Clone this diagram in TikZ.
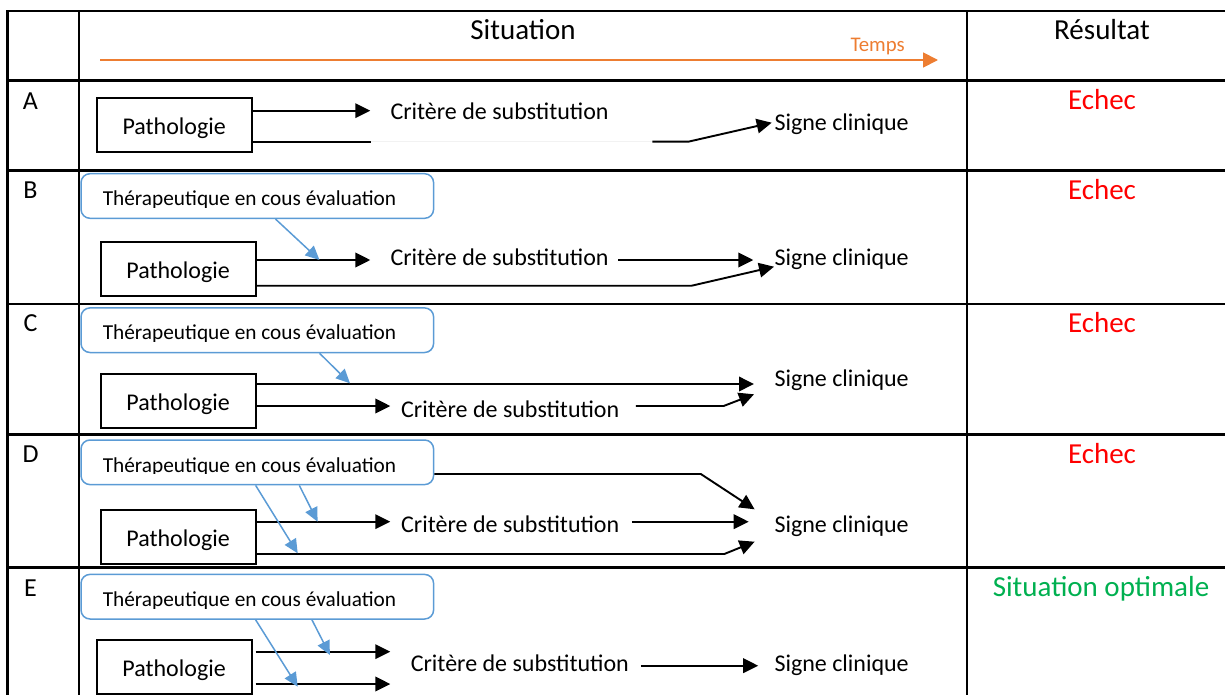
\documentclass[tikz,border=0pt]{standalone}
\usepackage{fontspec}
\setmainfont{Carlito}
\usetikzlibrary{arrows.meta,calc}

\definecolor{blueC}{HTML}{5B9BD5}
\definecolor{orangeC}{HTML}{ED7D31}
\definecolor{greenC}{HTML}{00B050}
\definecolor{redC}{HTML}{FF0000}

\tikzset{
	patho/.style = {draw, line width=2pt, minimum width=155pt, minimum height=54pt, inner sep=0pt, text height=18.6pt, text depth=0pt, font=\fontsize{24}{28}\selectfont},
	thera/.style = {draw=blueC, line width=1.5pt, rounded corners=9pt, minimum width=352.6pt, minimum height=44.6pt},
	theratext/.style = {anchor=base west, inner sep=0pt, font=\fontsize{21.3}{25}\selectfont},
	txt/.style = {anchor=base west, inner sep=0pt, font=\fontsize{24}{28}\selectfont},
	big/.style = {anchor=base, inner sep=0pt, font=\fontsize{29}{34}\selectfont},
	rowlbl/.style = {anchor=base, inner sep=0pt, font=\fontsize{26}{30}\selectfont},
	arr/.style = {line width=1.9pt, -{Triangle[length=15pt,width=14.5pt]}},
	barr/.style = {blueC, line width=1.5pt, -{Triangle[length=14pt,width=13pt]}},
	grid/.style = {line width=2.5pt, line cap=rect}
}

\begin{document}
\begin{tikzpicture}[x=1pt, y=-1pt]
	\useasboundingbox (0,0) rectangle (1225,695);
	\clip (0,0) rectangle (1225,695);

	\foreach \yy in {11, 80.7, 170.7, 304, 434.7, 567.3}
		\draw[grid] (7.5,\yy) -- (1230,\yy);
	\foreach \xx in {7.5, 79, 967}
		\draw[grid] (\xx,11) -- (\xx,700);

	\node[big] (sit) at (523,40) {Situation};
	\node[big] (res) at (1102,40) {Résultat};
	\node[anchor=base, inner sep=0pt, orangeC, font=\fontsize{20.8}{24}\selectfont] (temps) at (877.6,51.7) {Temps};
	\coordinate (t0) at (100,60);
	\coordinate (t1) at (938,60);
	\draw[orangeC, line width=1.8pt, -{Triangle[length=15pt,width=15pt]}] (t0) -- (t1);

	\node[rowlbl] (lA) at (30.5,109.3) {A};
	\node[rowlbl] (lB) at (30.5,198.3) {B};
	\node[rowlbl] (lC) at (30.5,331.7) {C};
	\node[rowlbl] (lD) at (30.5,462.3) {D};
	\node[rowlbl] (lE) at (30.5,596) {E};

	\node[big, redC] (rA) at (1102,109.3) {Echec};
	\node[big, redC] (rB) at (1102,199.3) {Echec};
	\node[big, redC] (rC) at (1102,332.3) {Echec};
	\node[big, redC] (rD) at (1102,463.3) {Echec};
	\node[big, greenC] (rE) at (1101,596) {Situation optimale};

	% A
	\node[patho] (pathA) at (174.2,125) {Pathologie};
	\node[txt] (critA) at (390.3,119.4) {Critère de substitution};
	\node[txt] (signA) at (774.3,130.7) {Signe clinique};
	\draw[arr, shorten >=20pt] (pathA.east |- 0,110.7) -- (critA.west |- 0,110.7);
	\draw[line width=1.9pt] (pathA.east |- 0,141.7) -- (370.7,141.7);
	\draw[line width=1.6pt, black!5] (370.7,141.7) -- (652.3,141.7);
	\draw[arr] (652.3,141.7) -- (688.3,141.7) -- ($(signA.base west)+(-2.6,-8)$);

	% B
	\node[thera] (theraB) at (257.3,196) {};
	\begin{scope}
		\clip (theraB.north west) rectangle ([yshift=11.6pt]theraB.south east);
		\node[theratext] (thB) at (102.6,205.5) {Thérapeutique en cous évaluation};
	\end{scope}
	\node[patho] (pathB) at (178.1,269.2) {Pathologie};
	\node[txt] (critB) at (390.3,265.7) {Critère de substitution};
	\node[txt] (signB) at (774.3,265.7) {Signe clinique};
	\draw[arr, shorten >=20pt] (pathB.east |- 0,260) -- (critB.west |- 0,260);
	\draw[arr, shorten <=9.4pt, shorten >=21pt] (critB.east |- 0,260) -- (signB.west |- 0,260);
	\draw[arr] (pathB.east |- 0,285.7) -- (691.7,285.7) -- ($(signB.base west)+(-0.3,1)$);
	\draw[barr] (theraB.south -| 275.5,0) -- (319.5,260);

	% C
	\node[thera] (theraC) at (257.3,330.2) {};
	\begin{scope}
		\clip (theraC.north west) rectangle ([yshift=11.6pt]theraC.south east);
		\node[theratext] (thC) at (102.6,339.8) {Thérapeutique en cous évaluation};
	\end{scope}
	\node[patho] (pathC) at (178.1,400.9) {Pathologie};
	\node[txt] (signC) at (774.3,386) {Signe clinique};
	\node[txt] (critC) at (401,417.7) {Critère de substitution};
	\draw[arr, shorten >=20.3pt] (pathC.east |- 0,384) -- (signC.west |- 0,384);
	\draw[arr, shorten >=10.7pt] (pathC.east |- 0,406) -- (critC.west |- 0,406);
	\draw[arr, shorten <=16.4pt] (critC.east |- 0,406) -- (723.6,406) -- ($(signC.base west)+(-20.3,8.3)$);
	\draw[barr] (theraC.south -| 319.5,0) -- (350,383.3);

	% D
	\node[thera] (theraD) at (257.3,462.3) {};
	\begin{scope}
		\clip (theraD.north west) rectangle ([yshift=11.6pt]theraD.south east);
		\node[theratext] (thD) at (102.6,472.1) {Thérapeutique en cous évaluation};
	\end{scope}
	\node[patho] (pathD) at (178.1,537) {Pathologie};
	\node[txt] (critD) at (401,532.7) {Critère de substitution};
	\node[txt] (signD) at (774.3,532.7) {Signe clinique};
	\draw[arr] (theraD.east |- 0,474) -- (700.8,474) -- ($(signD.base west)+(-19.7,-23.4)$);
	\draw[arr, shorten >=10.7pt] (pathD.east |- 0,521.7) -- (critD.west |- 0,521.7);
	\draw[arr, shorten <=12.4pt, shorten >=25.6pt] (critD.east |- 0,521.7) -- (signD.west |- 0,521.7);
	\draw[arr] (pathD.east |- 0,554) -- (724.3,554) -- ($(signD.base west)+(-19.7,9)$);
	\draw[barr] (theraD.south -| 299.3,0) -- (317.6,521.7);
	\draw[barr] (theraD.south -| 255.6,0) -- (297.7,553.3);

	% E
	\node[thera] (theraE) at (257.3,596.7) {};
	\begin{scope}
		\clip (theraE.north west) rectangle ([yshift=11.6pt]theraE.south east);
		\node[theratext] (thE) at (102.6,606.5) {Thérapeutique en cous évaluation};
	\end{scope}
	\node[patho] (pathE) at (174.1,667) {Pathologie};
	\node[txt] (critE) at (410.6,671.7) {Critère de substitution};
	\node[txt] (signE) at (774.3,671.7) {Signe clinique};
	\draw[arr, shorten <=3.1pt, shorten >=20.3pt] (pathE.east |- 0,651.7) -- (critE.west |- 0,651.7);
	\draw[arr, shorten <=3.1pt, shorten >=20.3pt] (pathE.east |- 0,684) -- (critE.west |- 0,684);
	\draw[arr, shorten <=11.9pt, shorten >=16.1pt] (critE.east |- 0,665.7) -- (signE.west |- 0,665.7);
	\draw[barr] (theraE.south -| 311.9,0) -- (329.9,655);
	\draw[barr] (theraE.south -| 255.6,0) -- (297.7,686.7);
\end{tikzpicture}
\end{document}
